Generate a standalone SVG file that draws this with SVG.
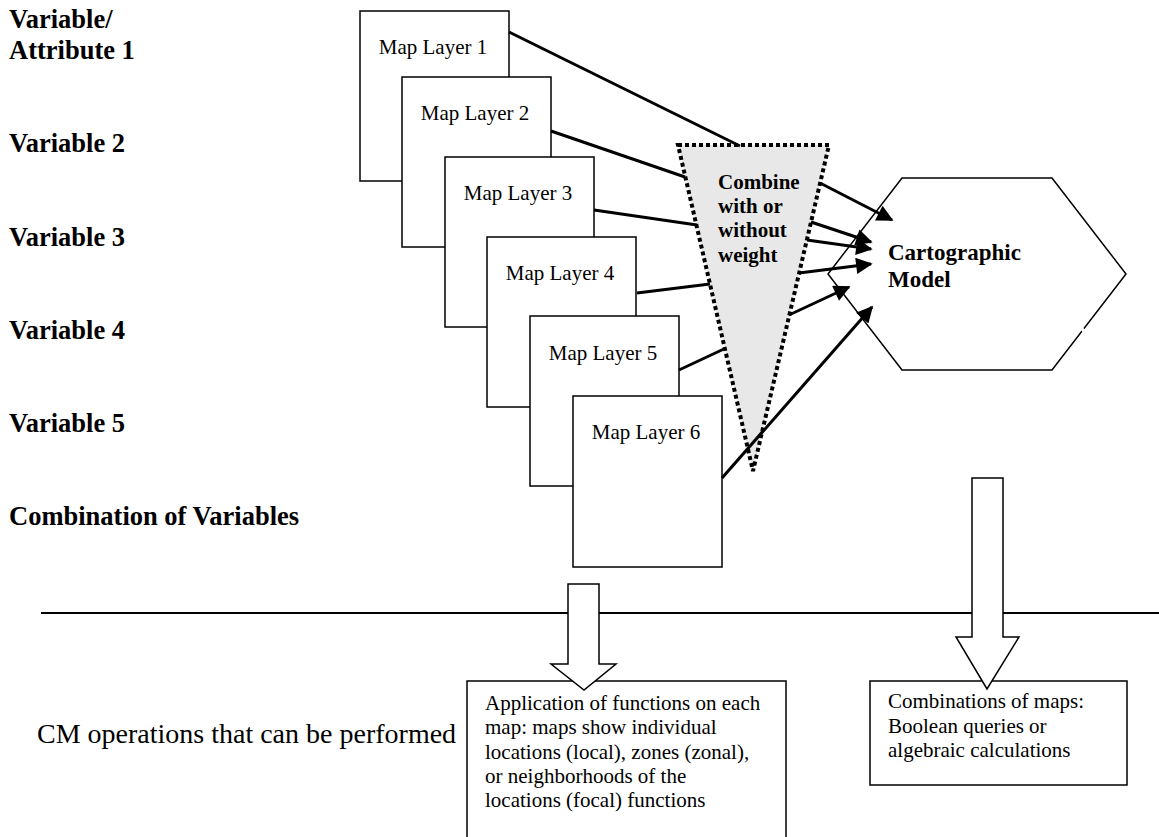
<svg xmlns="http://www.w3.org/2000/svg" width="1159" height="837" viewBox="0 0 1159 837">
<defs>
<style>
.bl{font-family:"Liberation Serif","Times New Roman",serif;font-weight:bold;font-size:26.5px;fill:#000}
.ml{font-family:"Liberation Serif","Times New Roman",serif;font-size:21px;fill:#000}
.bx{font-family:"Liberation Serif","Times New Roman",serif;font-size:21px;fill:#000}
.layer{fill:#fff;stroke:#000;stroke-width:1.5}
.con{stroke:#000;stroke-width:3;fill:none}
.arr{stroke:#000;stroke-width:3;fill:none;marker-end:url(#ah)}
.thin{fill:#fff;stroke:#000;stroke-width:1.5}
</style>
<marker id="ah" viewBox="0 0 10 10" refX="9" refY="5" markerWidth="7" markerHeight="5.5" orient="auto" markerUnits="strokeWidth">
<path d="M0,0 L10,5 L0,10 z" fill="#000"/>
</marker>
</defs>
<rect width="1159" height="837" fill="#fff"/>

<g id="labels">
<text class="bl" x="9" y="28">Variable/</text>
<text class="bl" x="9" y="59">Attribute 1</text>
<text class="bl" x="9" y="152">Variable 2</text>
<text class="bl" x="9" y="246">Variable 3</text>
<text class="bl" x="9" y="339">Variable 4</text>
<text class="bl" x="9" y="432">Variable 5</text>
<text class="bl" x="9" y="525">Combination of Variables</text>
</g>

<g id="layer1"><rect class="layer" x="360" y="11" width="149" height="170"/><text class="ml" x="433" y="54" text-anchor="middle">Map Layer 1</text></g>
<g id="layer2"><rect class="layer" x="402" y="77" width="149" height="170"/><text class="ml" x="475" y="120" text-anchor="middle">Map Layer 2</text></g>
<g id="layer3"><rect class="layer" x="445" y="157" width="149" height="170"/><text class="ml" x="518" y="200" text-anchor="middle">Map Layer 3</text></g>
<g id="layer4"><rect class="layer" x="487" y="237" width="149" height="170"/><text class="ml" x="560" y="280" text-anchor="middle">Map Layer 4</text></g>
<g id="layer5"><rect class="layer" x="530" y="316" width="149" height="170"/><text class="ml" x="603" y="360" text-anchor="middle">Map Layer 5</text></g>
<g id="layer6"><rect class="layer" x="573" y="396" width="149" height="171"/><text class="ml" x="646" y="439" text-anchor="middle">Map Layer 6</text></g>

<g id="combine">
<polygon points="678,145 829,145 753,471" fill="#e8e8e8" stroke="#000" stroke-width="4" stroke-dasharray="4,3"/>
<text class="ml" font-weight="bold" x="718" y="189">Combine</text>
<text class="ml" font-weight="bold" x="718" y="213">with or</text>
<text class="ml" font-weight="bold" x="718" y="237">without</text>
<text class="ml" font-weight="bold" x="718" y="262">weight</text>
</g>

<g id="model">
<polygon class="thin" points="902,178 1052,178 1126,274 1052,370 902,370 828,274"/>
<line x1="1080" y1="326" x2="1086" y2="334" stroke="#fff" stroke-width="3"/>
<text class="ml" font-weight="bold" x="888" y="260" style="font-size:23px">Cartographic</text>
<text class="ml" font-weight="bold" x="888" y="287" style="font-size:23px">Model</text>
</g>

<g id="connectors">
<line class="con" x1="509" y1="32" x2="740" y2="146"/>
<line class="con" x1="551" y1="131" x2="685" y2="177"/>
<line class="con" x1="594" y1="210" x2="697" y2="225"/>
<line class="con" x1="637" y1="293" x2="710" y2="284"/>
<line class="con" x1="679" y1="370" x2="726" y2="348"/>
<line class="arr" x1="722" y1="478" x2="872" y2="307"/>
<line class="arr" x1="820" y1="183" x2="892" y2="220"/>
<line class="arr" x1="811" y1="222" x2="871" y2="242"/>
<line class="arr" x1="807" y1="240" x2="871" y2="249"/>
<line class="arr" x1="799" y1="273" x2="871" y2="264"/>
<line class="arr" x1="789" y1="315" x2="849" y2="287"/>
</g>

<line id="divider" x1="41" y1="613" x2="1159" y2="613" stroke="#000" stroke-width="2"/>

<g id="cm-label"><text class="bx" x="37" y="743" style="font-size:28px">CM operations that can be performed</text></g>

<g id="box1">
<rect class="thin" x="467" y="681" width="319" height="160"/>
<text class="bx" x="485" y="710">Application of functions on each</text>
<text class="bx" x="485" y="734">map: maps show individual</text>
<text class="bx" x="485" y="759">locations (local), zones (zonal),</text>
<text class="bx" x="485" y="783">or neighborhoods of the</text>
<text class="bx" x="485" y="807">locations (focal) functions</text>
</g>

<g id="box2">
<rect class="thin" x="870" y="681" width="257" height="104"/>
<text class="bx" x="888" y="708">Combinations of maps:</text>
<text class="bx" x="888" y="733">Boolean queries or</text>
<text class="bx" x="888" y="757">algebraic calculations</text>
</g>

<g id="arrow-down-1"><polygon class="thin" points="568,584 599,584 599,664 616,664 584,690 551,664 568,664"/></g>
<g id="arrow-down-2"><polygon class="thin" points="972,478 1003,478 1003,637 1019,637 987,689 956,637 972,637"/></g>
</svg>
